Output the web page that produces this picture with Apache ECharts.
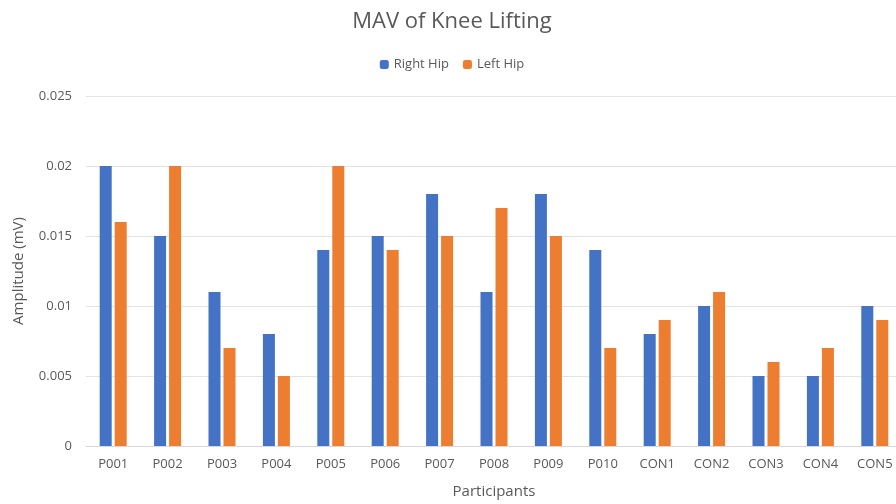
<!DOCTYPE html>
<html>
<head>
<meta charset="utf-8">
<script src="https://cdn.jsdelivr.net/npm/echarts@6/dist/echarts.min.js"></script>
<style>
  html, body { margin: 0; padding: 0; background: #fff; overflow: hidden; }
  /* the original chart is a little wider than the picture; its right edge is cut off */
  #chart { width: 904px; height: 504px; }
</style>
</head>
<body>
<div id="chart"></div>
<script>
// participants on the x axis
var participants = ['P001', 'P002', 'P003', 'P004', 'P005', 'P006', 'P007', 'P008',
  'P009', 'P010', 'CON1', 'CON2', 'CON3', 'CON4', 'CON5'];
// MAV values (mV)
var rightHip = [0.020, 0.015, 0.011, 0.008, 0.014, 0.015, 0.018, 0.011,
  0.018, 0.014, 0.008, 0.010, 0.005, 0.005, 0.010];
var leftHip = [0.016, 0.020, 0.007, 0.005, 0.020, 0.014, 0.015, 0.017,
  0.015, 0.007, 0.009, 0.011, 0.006, 0.007, 0.009];
var yTicks = [0, 0.005, 0.01, 0.015, 0.02, 0.025];

var font = 'Open Sans, Noto Sans, sans-serif';
var grey = '#595959';

var option = {
  animation: false,
  title: {
    text: 'MAV of Knee Lifting',
    left: 'center',
    top: 6,
    textStyle: { fontFamily: font, fontSize: 22, fontWeight: 'normal', color: grey }
  },
  legend: {
    data: ['Right Hip', 'Left Hip'],
    top: 53,
    left: 'center',
    itemWidth: 9,
    itemHeight: 9,
    itemGap: 14,
    textStyle: { fontFamily: font, fontSize: 13, color: grey }
  },
  grid: { left: 86, right: 2, top: 96, bottom: 58 },
  xAxis: {
    type: 'category',
    data: participants,
    name: 'Participants',
    nameLocation: 'middle',
    nameGap: 38,
    nameTextStyle: { fontFamily: font, fontSize: 15, color: grey },
    axisLine: { lineStyle: { color: '#d9d9d9' } },
    axisTick: { show: false },
    axisLabel: { fontFamily: font, fontSize: 13, color: grey, margin: 12 }
  },
  yAxis: {
    type: 'value',
    min: yTicks[0],
    max: yTicks[yTicks.length - 1],
    interval: 0.005,
    name: 'Amplitude (mV)',
    nameLocation: 'middle',
    nameGap: 60,
    nameTextStyle: { fontFamily: font, fontSize: 15, color: grey },
    axisLine: { show: false },
    axisTick: { show: false },
    axisLabel: { fontFamily: font, fontSize: 13, color: grey, margin: 14 },
    splitLine: { lineStyle: { color: '#e3e3e3' } }
  },
  series: [
    {
      name: 'Right Hip',
      type: 'bar',
      data: rightHip,
      barWidth: 12,
      barGap: '25%',
      itemStyle: { color: '#4472C4' }
    },
    {
      name: 'Left Hip',
      type: 'bar',
      data: leftHip,
      barWidth: 12,
      itemStyle: { color: '#ED7D31' }
    }
  ]
};

var myChart = echarts.init(document.getElementById('chart'));
myChart.setOption(option);
</script>
</body>
</html>
